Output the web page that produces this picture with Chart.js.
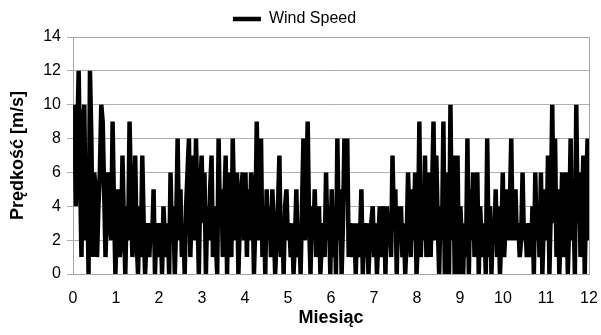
<!DOCTYPE html>
<html>
<head>
<meta charset="utf-8">
<script src="https://cdn.jsdelivr.net/npm/chart.js@4"></script>
<style>
  html, body { margin: 0; padding: 0; background: #fff; }
  #wrap { width: 601px; height: 335px; }
</style>
</head>
<body>
<div id="wrap"><canvas id="windChart" width="601" height="335"></canvas></div>
<script>
// daily wind speed [m/s], one value per day
const jan = [7, 10, 4, 8, 12, 6, 1, 9, 10, 2, 6, 0, 12, 8, 1, 6, 5, 1, 4, 6, 10, 9, 5, 1, 4, 6, 3, 2, 9, 4, 0];
const feb = [3, 5, 1, 2, 7, 3, 0, 4, 2, 9, 5, 1, 3, 7, 2, 0, 4, 1, 7, 3, 0, 2, 3, 1, 3, 2, 5, 0, 3, 2, 1];
const mar = [3, 0, 4, 2, 1, 3, 0, 6, 2, 4, 0, 3, 8, 2, 5, 1, 3, 0, 4, 6, 8, 1, 4, 7, 2, 8, 4, 0, 5, 7];
const apr = [3, 6, 0, 4, 2, 5, 7, 1, 4, 2, 0, 8, 3, 5, 1, 4, 7, 0, 6, 3, 1, 8, 4, 2, 6, 0, 3, 5, 6, 2];
const may = [6, 1, 5, 2, 6, 5, 0, 3, 9, 2, 6, 8, 1, 4, 0, 5, 2, 4, 1, 5, 3, 0, 2, 4, 7, 1, 3, 0, 4, 5];
const jun = [2, 3, 1, 3, 0, 2, 5, 1, 3, 0, 4, 8, 2, 5, 9, 3, 0, 4, 2, 5, 1, 3, 4, 0, 2, 3, 1, 6, 2, 4, 0];
const jul = [5, 1, 4, 0, 8, 2, 5, 0, 3, 8, 6, 8, 1, 3, 1, 2, 3, 0, 3, 1, 2, 5, 0, 3, 1, 3, 0, 2, 3, 4];
const aug = [1, 3, 0, 2, 4, 1, 3, 4, 0, 4, 2, 3, 1, 7, 3, 5, 0, 4, 2, 4, 1, 3, 0, 2, 6, 3, 1, 5, 2, 6, 0];
const sep = [2, 9, 1, 4, 2, 7, 1, 4, 6, 1, 5, 9, 2, 7, 3, 0, 4, 2, 9, 0, 6, 3, 0, 10, 2, 7, 0, 3, 7, 0];
const oct = [4, 2, 0, 3, 1, 8, 0, 5, 2, 6, 1, 3, 6, 0, 4, 2, 1, 3, 0, 8, 1, 4, 0, 3, 2, 5, 1, 4, 0, 2];
const nov = [6, 1, 3, 5, 2, 4, 8, 2, 3, 5, 2, 3, 1, 2, 6, 2, 3, 1, 2, 3, 1, 4, 0, 6, 2, 4, 1, 6, 0, 3, 5];
const dec = [2, 7, 0, 4, 10, 3, 8, 1, 5, 0, 3, 6, 1, 4, 6, 0, 3, 8, 2, 4, 0, 10, 3, 6, 1, 4, 7, 0, 5, 8, 2];

const windSpeed = [].concat(jan, feb, mar, apr, may, jun, jul, aug, sep, oct, nov, dec);
const monthTicks = [0, 1, 2, 3, 4, 5, 6, 7, 8, 9, 10, 11, 12];
const speedTicks = [0, 2, 4, 6, 8, 10, 12, 14];

// x position in months: day index spread over 0..12
const points = windSpeed.map((v, i) => ({ x: (i * 12) / (windSpeed.length - 1), y: v }));

const FONT = "'Liberation Sans', Arial, sans-serif";

const plotBorder = {
  id: "plotBorder",
  beforeDatasetsDraw(chart) {
    const { ctx, chartArea: a } = chart;
    ctx.save();
    ctx.strokeStyle = "#a6a6a6";
    ctx.lineWidth = 1;
    ctx.strokeRect(Math.round(a.left) + 0.5, Math.round(a.top) + 0.5,
      Math.round(a.right - a.left), Math.round(a.bottom - a.top));
    ctx.restore();
  },
};

const ctx = document.getElementById("windChart").getContext("2d");

new Chart(ctx, {
  type: "line",
  data: {
    datasets: [
      {
        label: "Wind Speed",
        data: points,
        borderColor: "#000",
        backgroundColor: "#000",
        borderWidth: 4.5,
        pointRadius: 0,
        tension: 0,
      },
    ],
  },
  options: {
    responsive: false,
    animation: false,
    layout: { padding: { left: 0, right: 12, top: 4, bottom: 4 } },
    plugins: {
      tooltip: { enabled: false },
      legend: {
        display: true,
        position: "top",
        labels: {
          usePointStyle: true,
          pointStyle: "line",
          pointStyleWidth: 28,
          boxHeight: 14,
          color: "#000",
          font: { family: FONT, size: 16 },
          padding: 7,
        },
      },
    },
    scales: {
      x: {
        type: "linear",
        min: 0,
        max: 12,
        afterBuildTicks: (scale) => {
          scale.ticks = monthTicks.map((v) => ({ value: v }));
        },
        afterFit: (scale) => {
          scale.height = 57;
          scale.paddingLeft = 0;
          scale.paddingRight = 0;
        },
        grid: { display: false, drawTicks: false },
        border: { display: true, color: "#a6a6a6" },
        ticks: {
          color: "#000",
          font: { family: FONT, size: 16 },
          padding: 15,
          maxRotation: 0,
        },
        title: {
          display: true,
          text: "Miesiąc",
          color: "#000",
          font: { family: FONT, size: 18, weight: "bold" },
          padding: { top: 0, bottom: 2 },
        },
      },
      y: {
        min: 0,
        max: 14,
        afterBuildTicks: (scale) => {
          scale.ticks = speedTicks.map((v) => ({ value: v }));
        },
        afterFit: (scale) => {
          scale.width = 73;
        },
        grid: { color: "#b0b0b0", tickLength: 6, drawTicks: true },
        border: { display: true, color: "#a6a6a6" },
        ticks: {
          color: "#000",
          font: { family: FONT, size: 16 },
          padding: 6,
        },
        title: {
          display: true,
          text: "Prędkość [m/s]",
          color: "#000",
          font: { family: FONT, size: 18, weight: "bold" },
          padding: { top: 7, bottom: 4 },
        },
      },
    },
  },
  plugins: [plotBorder],
});
</script>
</body>
</html>
